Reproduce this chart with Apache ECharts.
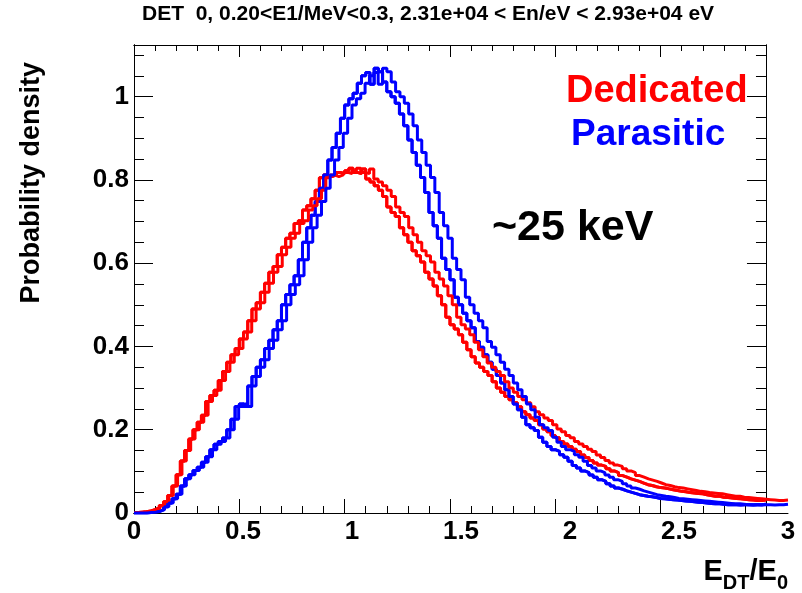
<!DOCTYPE html>
<html><head><meta charset="utf-8">
<script src="https://cdn.jsdelivr.net/npm/echarts@6/dist/echarts.min.js"></script>
<style>html,body{margin:0;padding:0;background:#fff}
.c{position:absolute;left:0;top:0;width:802px;height:593px}
#main{z-index:3}#ticksMinor{z-index:2}#ticksMajor{z-index:1}</style>
</head><body><div class="c" id="ticksMajor"></div><div class="c" id="ticksMinor"></div><div class="c" id="main"></div>
<script>
// Histogram: bins of width 0.02 from 0 to 3 (values = probability density)
const binLow = 0;
const binWidth = 0.02;
const dedicated = [
  0.001,0.002,0.003,0.005,0.008,0.012,0.018,0.027,0.042,0.065,
  0.092,0.125,0.150,0.178,0.200,0.218,0.235,0.268,0.282,0.295,
  0.318,0.340,0.362,0.380,0.395,0.418,0.435,0.462,0.490,0.505,
  0.530,0.552,0.578,0.592,0.620,0.638,0.660,0.672,0.695,0.702,
  0.728,0.738,0.755,0.775,0.805,0.812,0.808,0.812,0.818,0.815,
  0.822,0.828,0.818,0.815,0.826,0.802,0.795,0.786,0.775,0.760,
  0.735,0.722,0.712,0.685,0.668,0.650,0.630,0.618,0.603,0.578,
  0.562,0.545,0.522,0.500,0.470,0.452,0.442,0.428,0.410,0.392,
  0.375,0.360,0.350,0.340,0.330,0.315,0.300,0.290,0.280,0.272,
  0.265,0.255,0.243,0.236,0.228,0.222,0.212,0.202,0.195,0.186,
  0.181,0.172,0.166,0.160,0.153,0.148,0.139,0.133,0.126,0.120,
  0.115,0.112,0.106,0.101,0.097,0.090,0.086,0.082,0.079,0.076,
  0.072,0.068,0.066,0.063,0.061,0.060,0.058,0.056,0.054,0.052,
  0.051,0.049,0.048,0.047,0.046,0.044,0.042,0.040,0.040,0.038,
  0.037,0.036,0.035,0.034,0.033,0.032,0.031,0.030,0.030,0.031
];
const parasitic = [
  0.000,0.000,0.000,0.001,0.002,0.004,0.008,0.015,0.024,0.034,
  0.045,0.065,0.082,0.092,0.102,0.110,0.122,0.135,0.152,0.165,
  0.172,0.180,0.200,0.225,0.256,0.262,0.256,0.305,0.328,0.350,
  0.368,0.395,0.415,0.440,0.462,0.500,0.525,0.548,0.570,0.608,
  0.650,0.685,0.715,0.748,0.780,0.812,0.848,0.878,0.912,0.948,
  0.980,0.995,1.008,1.032,1.050,1.058,1.030,1.068,1.060,1.035,
  1.012,1.000,0.984,0.958,0.930,0.896,0.866,0.835,0.806,0.770,
  0.722,0.690,0.660,0.612,0.585,0.560,0.518,0.500,0.480,0.462,
  0.445,0.412,0.398,0.380,0.362,0.345,0.330,0.312,0.296,0.280,
  0.262,0.248,0.230,0.212,0.205,0.198,0.182,0.170,0.160,0.152,
  0.148,0.140,0.134,0.124,0.114,0.108,0.101,0.097,0.091,0.086,
  0.080,0.076,0.070,0.065,0.060,0.057,0.053,0.050,0.047,0.044,
  0.042,0.040,0.039,0.037,0.035,0.034,0.033,0.032,0.031,0.030,
  0.029,0.028,0.027,0.026,0.025,0.024,0.023,0.022,0.022,0.021,
  0.020,0.020,0.020,0.019,0.020,0.020,0.019,0.020,0.020,0.021
];
const xRange = [0, 3];
const yRange = [0, 1.124];
const xMajor = 0.5, xMinor = 0.1;
const yMajor = 0.2, yMinor = 0.05;
const titleText = 'DET  0, 0.20<E1/MeV<0.3, 2.31e+04 < En/eV < 2.93e+04 eV';
const yTitle = 'Probability density';
const legendNames = ['Dedicated', 'Parasitic'];
const annotation = '~25 keV';

function stepData(vals) {
  const d = vals.map((v, i) => [binLow + i * binWidth, v]);
  d.push([binLow + vals.length * binWidth, vals[vals.length - 1]]);
  return d;
}

const FONT = 'Liberation Sans, Arial, Helvetica, sans-serif';
const black = '#000';
const rect = {left: 134, top: 45, right: 14, bottom: 80};
const rectWH = {left: 134, top: 45, width: 654, height: 468};

function isMult(v, step) {
  const r = v / step;
  return Math.abs(r - Math.round(r)) < 1e-6;
}
function histSeries() {
  return [
    {name: legendNames[0], type: 'line', step: 'end', data: stepData(dedicated), symbol: 'none',
     xAxisIndex: 0, yAxisIndex: 0, lineStyle: {color: '#ff0000', width: 3}, clip: true, z: 3},
    {name: legendNames[1], type: 'line', step: 'end', data: stepData(parasitic), symbol: 'none',
     xAxisIndex: 0, yAxisIndex: 0, lineStyle: {color: '#0000ff', width: 3}, clip: true, z: 4}
  ];
}

// Tick-only axes (frame ticks on all four sides, ROOT style, pointing inside)
function tickAxis(kind, pos, interval, len) {
  const isX = kind === 'x';
  const range = isX ? xRange : yRange;
  return {
    type: 'value', position: pos, min: range[0], max: range[1], interval: interval,
    axisLine: {show: true, onZero: false, lineStyle: {color: black}},
    axisTick: {show: true, inside: true, length: len, lineStyle: {color: black}},
    splitLine: {show: false},
    axisLabel: {show: true, fontSize: 10, color: 'rgba(0,0,0,0)'}
  };
}
const chartMajor = echarts.init(document.getElementById('ticksMajor'));
chartMajor.setOption({
  animation: false,
  grid: Object.assign({}, rectWH),
  xAxis: [tickAxis('x', 'bottom', xMajor, 14), tickAxis('x', 'top', xMajor, 12)],
  yAxis: [tickAxis('y', 'left', yMajor, 19), tickAxis('y', 'right', yMajor, 19)],
  series: histSeries()
});
const chartMinor = echarts.init(document.getElementById('ticksMinor'));
chartMinor.setOption({
  animation: false,
  grid: Object.assign({}, rectWH),
  xAxis: [tickAxis('x', 'bottom', xMinor, 7), tickAxis('x', 'top', xMinor, 6)],
  yAxis: [tickAxis('y', 'left', yMinor, 10), tickAxis('y', 'right', yMinor, 10)],
  series: histSeries()
});

// Main chart: histograms, labels and texts
function labelAxis(kind) {
  const isX = kind === 'x';
  const range = isX ? xRange : yRange;
  const major = isX ? xMajor : yMajor;
  return {
    type: 'value', position: isX ? 'bottom' : 'left', min: range[0], max: range[1], interval: major,
    axisLine: {show: true, onZero: false, lineStyle: {color: black, width: 1}},
    axisTick: {show: false},
    splitLine: {show: false},
    axisLabel: {show: true, fontFamily: FONT, fontWeight: 'bold', fontSize: 26, color: black, margin: isX ? 6 : 5,
      formatter: function (v) { return isMult(v, major) ? String(Math.round(v * 10) / 10) : ''; }}
  };
}
const chart = echarts.init(document.getElementById('main'));
chart.setOption({
  animation: false,
  backgroundColor: 'transparent',
  grid: Object.assign({}, rect),
  xAxis: labelAxis('x'),
  yAxis: labelAxis('y'),
  series: histSeries(),
  graphic: [
    {type: 'text', x: 142, y: 14, style: {text: titleText, fontFamily: FONT, fontWeight: 'bold', fontSize: 21,
      fill: black, verticalAlign: 'middle', align: 'left'}},
    {type: 'text', x: 32, y: 62, rotation: Math.PI / 2, style: {text: yTitle, fontFamily: FONT, fontWeight: 'bold',
      fontSize: 27, fill: black, align: 'right', verticalAlign: 'middle'}},
    {type: 'text', right: 14, top: 557, style: {
      text: '{b|E}{s|DT}{b|/E}{s|0}', fontFamily: FONT, fontWeight: 'bold', fill: black,
      rich: {b: {fontSize: 29, fontFamily: FONT, fontWeight: 'bold', fill: black, verticalAlign: 'bottom'},
             s: {fontSize: 20, fontFamily: FONT, fontWeight: 'bold', fill: black, verticalAlign: 'bottom', padding: [0,0,-7,0]}}}},
    {type: 'text', x: 566, y: 92, style: {text: legendNames[0], fontFamily: FONT, fontWeight: 'bold', fontSize: 38,
      fill: '#ff0000', verticalAlign: 'middle'}},
    {type: 'text', x: 571, y: 135, style: {text: legendNames[1], fontFamily: FONT, fontWeight: 'bold', fontSize: 37,
      fill: '#0000ff', verticalAlign: 'middle'}},
    {type: 'text', x: 492, y: 228, style: {text: annotation, fontFamily: FONT, fontWeight: 'bold', fontSize: 43,
      fill: black, verticalAlign: 'middle'}}
  ]
});
</script>
</body></html>
